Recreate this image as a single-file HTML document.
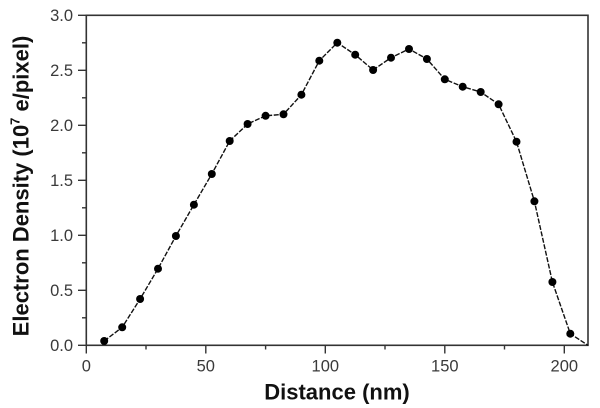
<!DOCTYPE html>
<html>
<head>
<meta charset="utf-8">
<style>
  html, body { margin:0; padding:0; background:#fff; }
  svg { display:block; }
  .tl { font-family:"Liberation Sans", Arial, sans-serif; font-size:16.5px; fill:#3a3a3a; }
  .ttl { font-family:"Liberation Sans", Arial, sans-serif; font-size:22px; font-weight:bold; fill:#111; }
</style>
</head>
<body>
<svg width="600" height="408" viewBox="0 0 600 408" xmlns="http://www.w3.org/2000/svg">
  <rect width="600" height="408" fill="#fff"/>
  <!-- plot frame -->
  <rect x="86.3" y="15.3" width="501.7" height="330" fill="none" stroke="#333" stroke-width="1.6"/>

  <!-- y ticks major -->
  <g stroke="#333" stroke-width="1.4">
    <line x1="78" y1="345.3" x2="86.3" y2="345.3"/>
    <line x1="78" y1="290.3" x2="86.3" y2="290.3"/>
    <line x1="78" y1="235.3" x2="86.3" y2="235.3"/>
    <line x1="78" y1="180.3" x2="86.3" y2="180.3"/>
    <line x1="78" y1="125.3" x2="86.3" y2="125.3"/>
    <line x1="78" y1="70.3" x2="86.3" y2="70.3"/>
    <line x1="78" y1="15.3" x2="86.3" y2="15.3"/>
    <!-- minor -->
    <line x1="82" y1="317.8" x2="86.3" y2="317.8"/>
    <line x1="82" y1="262.8" x2="86.3" y2="262.8"/>
    <line x1="82" y1="207.8" x2="86.3" y2="207.8"/>
    <line x1="82" y1="152.8" x2="86.3" y2="152.8"/>
    <line x1="82" y1="97.8" x2="86.3" y2="97.8"/>
    <line x1="82" y1="42.8" x2="86.3" y2="42.8"/>
    <!-- x ticks major -->
    <line x1="86.3" y1="345.3" x2="86.3" y2="353.5"/>
    <line x1="205.8" y1="345.3" x2="205.8" y2="353.5"/>
    <line x1="325.3" y1="345.3" x2="325.3" y2="353.5"/>
    <line x1="444.8" y1="345.3" x2="444.8" y2="353.5"/>
    <line x1="564.3" y1="345.3" x2="564.3" y2="353.5"/>
    <!-- minor -->
    <line x1="146" y1="345.3" x2="146" y2="349.5"/>
    <line x1="265.6" y1="345.3" x2="265.6" y2="349.5"/>
    <line x1="385" y1="345.3" x2="385" y2="349.5"/>
    <line x1="504.5" y1="345.3" x2="504.5" y2="349.5"/>
  </g>

  <!-- y tick labels -->
  <g class="tl" text-anchor="end">
    <text x="73" y="351">0.0</text>
    <text x="73" y="296">0.5</text>
    <text x="73" y="241">1.0</text>
    <text x="73" y="186">1.5</text>
    <text x="73" y="131">2.0</text>
    <text x="73" y="76">2.5</text>
    <text x="73" y="21">3.0</text>
  </g>
  <!-- x tick labels -->
  <g class="tl" text-anchor="middle">
    <text x="86.3" y="371.5">0</text>
    <text x="205.8" y="371.5">50</text>
    <text x="325.3" y="371.5">100</text>
    <text x="444.8" y="371.5">150</text>
    <text x="564.3" y="371.5">200</text>
  </g>

  <!-- axis titles -->
  <text class="ttl" x="337" y="399.5" text-anchor="middle">Distance (nm)</text>
  <text class="ttl" transform="translate(28.5,186) rotate(-90)" text-anchor="middle">Electron Density (10<tspan font-size="13" dy="-9">7</tspan><tspan dy="9"> e/pixel)</tspan></text>

  <!-- data line -->
  <polyline fill="none" stroke="#111" stroke-width="1.4" stroke-dasharray="5,1.6" stroke-linejoin="round"
    points="104.2,341 122.2,327.3 140.1,299 158.0,268.7 175.9,236 193.9,204.7 211.8,174 229.7,141 247.6,124 265.6,115.8 283.5,114.3 301.4,94.7 319.3,60.7 337.3,42.7 355.2,54.7 373.1,70 391.0,57.7 409.0,49 426.9,59 444.8,79.3 462.7,86.7 480.7,92 498.6,104.3 516.5,141.7 534.4,201.3 552.4,282 570.3,333.7 588,345.3"/>

  <!-- markers -->
  <g fill="#000">
    <circle cx="104.2" cy="341" r="4"/>
    <circle cx="122.2" cy="327.3" r="4"/>
    <circle cx="140.1" cy="299" r="4"/>
    <circle cx="158.0" cy="268.7" r="4"/>
    <circle cx="175.9" cy="236" r="4"/>
    <circle cx="193.9" cy="204.7" r="4"/>
    <circle cx="211.8" cy="174" r="4"/>
    <circle cx="229.7" cy="141" r="4"/>
    <circle cx="247.6" cy="124" r="4"/>
    <circle cx="265.6" cy="115.8" r="4"/>
    <circle cx="283.5" cy="114.3" r="4"/>
    <circle cx="301.4" cy="94.7" r="4"/>
    <circle cx="319.3" cy="60.7" r="4"/>
    <circle cx="337.3" cy="42.7" r="4"/>
    <circle cx="355.2" cy="54.7" r="4"/>
    <circle cx="373.1" cy="70" r="4"/>
    <circle cx="391.0" cy="57.7" r="4"/>
    <circle cx="409.0" cy="49" r="4"/>
    <circle cx="426.9" cy="59" r="4"/>
    <circle cx="444.8" cy="79.3" r="4"/>
    <circle cx="462.7" cy="86.7" r="4"/>
    <circle cx="480.7" cy="92" r="4"/>
    <circle cx="498.6" cy="104.3" r="4"/>
    <circle cx="516.5" cy="141.7" r="4"/>
    <circle cx="534.4" cy="201.3" r="4"/>
    <circle cx="552.4" cy="282" r="4"/>
    <circle cx="570.3" cy="333.7" r="4"/>
  </g>
</svg>
</body>
</html>
